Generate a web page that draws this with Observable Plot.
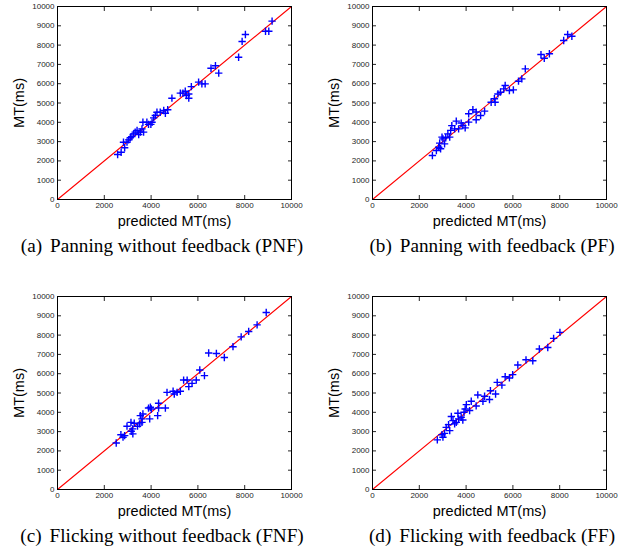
<!DOCTYPE html>
<html><head><meta charset="utf-8">
<script src="https://cdn.jsdelivr.net/npm/d3@7"></script>
<script src="https://cdn.jsdelivr.net/npm/@observablehq/plot@0.6"></script>
<style>
body{margin:0;background:#fff;}
#wrap{position:relative;width:629px;height:558px;background:#fff;overflow:hidden}
.panel{position:absolute}
.cap{position:absolute;font-family:"Liberation Serif","Times New Roman",serif;font-size:19.2px;white-space:nowrap;transform:translateX(-50%);color:#000;line-height:20px}
.cap span{margin-left:8px}
svg text{font-family:"Liberation Sans",Arial,sans-serif}
g[aria-label="x-axis label"] text, g[aria-label="y-axis label"] text{font-size:14.5px;fill:#000}
</style></head>
<body><div id="wrap"></div>
<script>
const xTicks = [0, 2000, 4000, 6000, 8000, 10000];
const yTicks = [0, 1000, 2000, 3000, 4000, 5000, 6000, 7000, 8000, 9000, 10000];
const diagonal = [0, 10000];

// [predicted MT, measured MT] in ms
const pnf = [
 [2570,2330],[2720,2450],[2870,2680],[2820,2970],[2970,2970],[3040,3090],[3110,3200],[3180,3260],
 [3250,3400],[3320,3490],[3400,3580],[3470,3370],[3540,3490],[3610,3660],[3680,3490],[3650,4000],
 [3820,4000],[3890,3890],[3990,3890],[4040,4000],[4110,4230],[4180,4350],[4250,4520],[4390,4520],
 [4540,4610],[4610,4470],[4710,4650],[4890,5250],[5250,5510],[5360,5510],[5460,5610],[5510,5390],
 [5610,5470],[5610,5250],[5720,5850],[6030,6080],[6170,5990],[6310,5990],[6560,6800],[6750,6930],
 [6890,6550],[7740,7370],[7890,8190],[8030,8550],[8890,8720],[9030,8720],[9170,9240]
];
const pf = [
 [2560,2280],[2730,2540],[2830,2710],[2910,2630],[2870,2920],[2970,3230],[3010,3140],[3080,2880],
 [3130,3200],[3220,3400],[3300,3230],[3340,3580],[3390,3830],[3510,3660],[3580,4060],[3680,3660],
 [3790,3960],[3860,3830],[3960,3710],[4110,4440],[4110,4010],[4290,4650],[4430,4530],[4430,4130],
 [4620,4350],[4790,4580],[5070,5040],[5210,5220],[5240,5040],[5360,5470],[5470,5560],[5610,5730],
 [5670,5910],[5850,5650],[6020,5680],[6240,6130],[6380,6250],[6530,6770],[7200,7510],[7340,7320],
 [7560,7550],[8170,8240],[8340,8550],[8520,8460]
];
const fnf = [
 [2510,2410],[2710,2840],[2800,2710],[2870,2790],[2970,3280],[3150,3020],[3210,3140],[3140,3480],
 [3280,3430],[3220,2880],[3420,3280],[3510,3400],[3540,3830],[3610,3660],[3650,3910],[3610,3480],
 [3890,4220],[3970,4260],[4010,4170],[3940,3660],[4280,3830],[4320,4470],[4320,4220],[4610,4220],
 [4680,5030],[4940,5090],[4990,4950],[5110,5030],[5250,5090],[5390,5670],[5540,5670],[5610,5330],
 [5750,5500],[5930,5670],[6080,6190],[6280,5900],[6460,7070],[6790,7050],[7130,6840],[7500,7400],
 [7850,7910],[8170,8190],[8530,8530],[8920,9170]
];
const ff = [
 [2770,2570],[2970,2840],[3010,2710],[3080,2910],[3150,3220],[3250,3360],[3300,3050],[3370,3780],
 [3440,3570],[3510,3400],[3580,3480],[3650,3950],[3680,3660],[3790,3740],[3860,3600],[3910,4000],
 [3960,4170],[4010,4400],[4150,4090],[4220,4570],[4430,4330],[4500,4900],[4720,4570],[4790,4830],
 [5000,4660],[5040,5120],[5260,4950],[5330,5550],[5530,5410],[5670,5840],[5850,5780],[5990,5950],
 [6210,6450],[6560,6720],[6850,6670],[7130,7280],[7490,7360],[7740,7830],[8010,8140]
];

const captions = [
 ["(a)", "Panning without feedback (PNF)"],
 ["(b)", "Panning with feedback (PF)"],
 ["(c)", "Flicking without feedback (FNF)"],
 ["(d)", "Flicking with feedback (FF)"]
];

const layout = [
 {data: pnf, left: 0, top: 0, w: 314, ml: 57, capX: 162, capY: 236},
 {data: pf, left: 314, top: 0, w: 315, ml: 58, capX: 492, capY: 236},
 {data: fnf, left: 0, top: 290, w: 314, ml: 57, capX: 162, capY: 526},
 {data: ff, left: 314, top: 290, w: 315, ml: 58, capX: 492, capY: 526}
];

function chart(data, w, ml) {
  return Plot.plot({
    width: w, height: 232,
    marginLeft: ml, marginRight: w - ml - 234, marginTop: 6, marginBottom: 33,
    x: {domain: [0, 10000]},
    y: {domain: [0, 10000]},
    style: {fontSize: "8px", color: "#262626", background: "white", fontFamily: "Liberation Sans, Arial, sans-serif"},
    marks: [
      Plot.axisX(xTicks, {anchor: "bottom", tickSize: -4, tickPadding: 7, tickFormat: "d", label: "predicted MT(ms)", labelAnchor: "center", labelOffset: 26, labelArrow: "none"}),
      Plot.axisX(xTicks, {anchor: "top", tickSize: -4, tickFormat: () => "", label: null}),
      Plot.axisY(yTicks, {anchor: "left", tickSize: -4, tickPadding: 7, tickFormat: "d", label: "MT(ms)", labelAnchor: "center", labelOffset: 44, labelArrow: "none"}),
      Plot.axisY(yTicks, {anchor: "right", tickSize: -4, tickFormat: () => "", label: null}),
      Plot.line(diagonal, {x: d => d, y: d => d, stroke: "#ff0000", strokeWidth: 1.1}),
      Plot.dot(data, {x: d => d[0], y: d => d[1], symbol: "plus", r: 2.5, stroke: "#0000ff", strokeWidth: 1.4}),
      Plot.frame({stroke: "#000", strokeWidth: 1})
    ]
  });
}

const wrap = document.getElementById("wrap");
layout.forEach((p, i) => {
  const div = document.createElement("div");
  div.className = "panel";
  div.style.left = p.left + "px";
  div.style.top = p.top + "px";
  div.appendChild(chart(p.data, p.w, p.ml));
  wrap.appendChild(div);
  const cap = document.createElement("div");
  cap.className = "cap";
  cap.style.left = p.capX + "px";
  cap.style.top = p.capY + "px";
  cap.textContent = captions[i][0];
  const s = document.createElement("span");
  s.textContent = captions[i][1];
  cap.appendChild(s);
  wrap.appendChild(cap);
});
</script>
</body></html>
